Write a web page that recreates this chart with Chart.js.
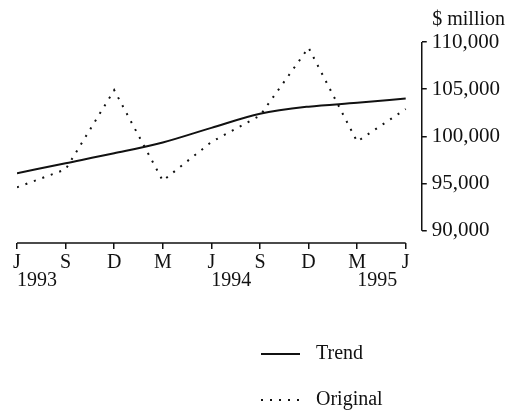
<!DOCTYPE html>
<html>
<head>
<meta charset="utf-8">
<script src="https://cdn.jsdelivr.net/npm/chart.js@4.4.0/dist/chart.umd.min.js"></script>
<style>
  html, body { margin: 0; padding: 0; background: #fff; }
  #wrap { width: 520px; height: 416px; }
</style>
</head>
<body>
<div id="wrap"><canvas id="chart"></canvas></div>
<script>
// quarters from June 1993 to June 1995
const quarterLabels = ["J", "S", "D", "M", "J", "S", "D", "M", "J"];
const yearLabels = ["1993", "", "", "", "1994", "", "", "1995", ""];
const trendValues = [96100, 97150, 98200, 99350, 100900, 102400, 103150, 103550, 104000];
const originalValues = [94600, 96500, 104900, 95300, 99400, 102200, 109400, 99450, 102900];
const yTicks = [90000, 95000, 100000, 105000, 110000];

const ink = "#111";
const font = { family: "'Liberation Serif', 'DejaVu Serif', serif", size: 20, weight: "normal" };

function toPoints(values) {
  return values.map((v, i) => ({ x: i, y: v }));
}

// axis lines drawn as brackets that stop at the first/last tick,
// plus the year row under the quarter letters
const bracketAxes = {
  id: "bracketAxes",
  afterDraw(chart) {
    const { ctx, chartArea, scales } = chart;
    ctx.save();
    ctx.strokeStyle = ink;
    ctx.lineWidth = 1.5;
    ctx.beginPath();
    ctx.moveTo(scales.x.getPixelForValue(0), chartArea.bottom);
    ctx.lineTo(scales.x.getPixelForValue(quarterLabels.length - 1), chartArea.bottom);
    ctx.moveTo(chartArea.right, scales.y.getPixelForValue(yTicks[yTicks.length - 1]));
    ctx.lineTo(chartArea.right, scales.y.getPixelForValue(yTicks[0]));
    ctx.stroke();

    ctx.fillStyle = ink;
    ctx.font = font.size + "px " + font.family;
    ctx.textAlign = "left";
    ctx.textBaseline = "middle";
    yearLabels.forEach((year, i) => {
      if (year) ctx.fillText(year, scales.x.getPixelForValue(i), chartArea.bottom + 38);
    });
    ctx.restore();
  }
};

// legend stacked vertically under the plot
const stackedLegend = {
  id: "stackedLegend",
  afterDraw(chart) {
    const { ctx } = chart;
    const rows = [354, 400];
    ctx.save();
    chart.data.datasets.forEach((ds, i) => {
      const y = rows[i];
      ctx.strokeStyle = ds.borderColor;
      ctx.lineWidth = ds.borderWidth;
      ctx.setLineDash(ds.borderDash || []);
      ctx.beginPath();
      ctx.moveTo(261, y);
      ctx.lineTo(300, y);
      ctx.stroke();
      ctx.setLineDash([]);
      ctx.fillStyle = ink;
      ctx.font = font.size + "px " + font.family;
      ctx.textBaseline = "middle";
      ctx.fillText(ds.label, 316, y);
    });
    ctx.restore();
  }
};

new Chart(document.getElementById("chart"), {
  type: "line",
  data: {
    datasets: [
      {
        label: "Trend",
        data: toPoints(trendValues),
        borderColor: ink,
        borderWidth: 2,
        pointRadius: 0,
        cubicInterpolationMode: "monotone"
      },
      {
        label: "Original",
        data: toPoints(originalValues),
        borderColor: ink,
        borderWidth: 2,
        borderDash: [2, 7],
        pointRadius: 0,
        tension: 0
      }
    ]
  },
  options: {
    responsive: true,
    maintainAspectRatio: false,
    animation: false,
    layout: { padding: { left: 17, right: 15, top: 8, bottom: 139 } },
    plugins: {
      legend: { display: false },
      tooltip: { enabled: false },
      title: {
        display: true,
        text: "$ million",
        align: "end",
        color: ink,
        font: font,
        padding: { top: 0, bottom: 10 }
      }
    },
    scales: {
      x: {
        type: "linear",
        min: 0,
        max: 8.33,
        border: { display: false },
        grid: { drawOnChartArea: false, drawTicks: true, tickLength: 6, color: ink, lineWidth: 1.5 },
        ticks: {
          stepSize: 1,
          includeBounds: false,
          autoSkip: false,
          maxRotation: 0,
          padding: 4,
          color: ink,
          font: { ...font, lineHeight: 1 },
          callback: (v) => quarterLabels[v] ?? ""
        }
      },
      y: {
        position: "right",
        min: 88700,
        max: 110000,
        border: { display: false },
        grid: { drawOnChartArea: false, drawTicks: true, tickLength: 5, color: ink, lineWidth: 1.5 },
        afterBuildTicks: (scale) => {
          scale.ticks = yTicks.map((v) => ({ value: v }));
        },
        ticks: {
          padding: 5,
          color: ink,
          font: { ...font, size: 21 },
          callback: (v) => v.toLocaleString("en-US")
        }
      }
    }
  },
  plugins: [bracketAxes, stackedLegend]
});
</script>
</body>
</html>
